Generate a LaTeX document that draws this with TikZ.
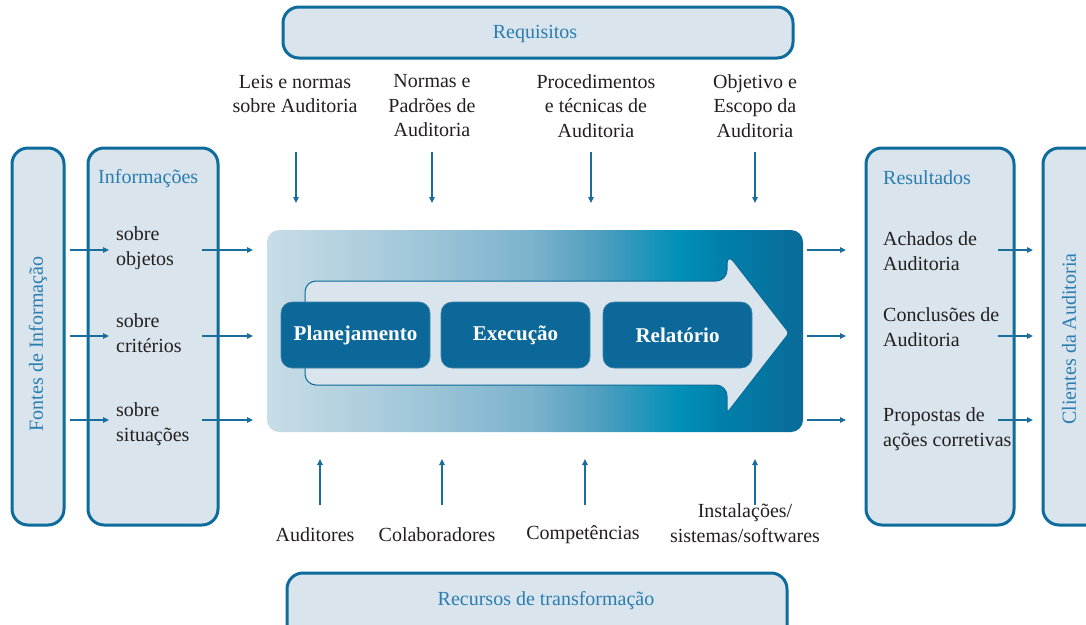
\documentclass[tikz,border=0pt]{standalone}
\usepackage{fontspec}
\setmainfont{Liberation Serif}
\usetikzlibrary{arrows.meta}
\definecolor{boxfill}{HTML}{D9E4EC}
\definecolor{boxline}{HTML}{0D6C9B}
\definecolor{titlec}{HTML}{2A7DB0}
\definecolor{textc}{HTML}{231F20}
\definecolor{arrowc}{HTML}{1A6E9E}
\definecolor{procfill}{HTML}{0B6898}
\definecolor{g1}{HTML}{C8DDE7}
\definecolor{g2}{HTML}{A6CADB}
\definecolor{g3}{HTML}{7DB3CD}
\definecolor{g4}{HTML}{4F9EC0}
\definecolor{g5}{HTML}{0090B8}
\definecolor{g6}{HTML}{0080AB}
\definecolor{g7}{HTML}{0A6A98}
\pgfdeclarehorizontalshading{coregrad}{100bp}{color(0bp)=(g1); color(25bp)=(g1); color(37bp)=(g2); color(49.5bp)=(g3); color(56bp)=(g4); color(63.5bp)=(g5); color(67.5bp)=(g6); color(75bp)=(g7); color(100bp)=(g7)}
\tikzset{
  panel/.style={draw=boxline, fill=boxfill, line width=3pt, rounded corners=16pt, inner sep=0pt},
  proc/.style={fill=procfill, draw=procfill!80!white, line width=0.6pt, rounded corners=11pt, minimum width=149pt, minimum height=66pt, text=white, font=\fontsize{21}{24}\selectfont\bfseries},
  lbl/.style={inner sep=0pt, text=textc, align=center},
  lbll/.style={inner sep=0pt, text=textc, align=left, anchor=west},
  ttl/.style={inner sep=0pt, text=titlec},
  conn/.style={draw=arrowc, line width=1.2pt, -{Triangle[length=6pt,width=5.5pt]}},
}
\begin{document}
\begin{tikzpicture}[x=1pt,y=-1pt, font=\fontsize{20}{24.5}\selectfont]
\useasboundingbox (0,0) rectangle (1086,624);
% top and bottom panels
\node[panel, minimum width=510pt, minimum height=51pt] (req) at (538,32.5) {};
\node[ttl] (reqt) at (535,34) {Requisitos};
\node[panel, minimum width=500pt, minimum height=70pt] (rec) at (537,608) {};
\node[ttl] (rect) at (546,601) {Recursos de transformação};
% side panels
\node[panel, minimum width=52pt, minimum height=377pt] (fon) at (38,336.5) {};
\node[ttl, rotate=90] (font) at (38,344) {Fontes de Informação};
\node[panel, minimum width=130pt, minimum height=377pt] (inf) at (153,336.5) {};
\node[ttl, anchor=west] (inft) at (98,179) {Informações};
\node[panel, minimum width=148pt, minimum height=377pt] (res) at (940,336.5) {};
\node[ttl, anchor=west] (rest) at (883,178) {Resultados};
\node[panel, minimum width=70pt, minimum height=377pt] (cli) at (1078,336.5) {};
\node[ttl, rotate=90] (clit) at (1069,339) {Clientes da Auditoria};
% core
\node[shade, shading=coregrad, rounded corners=12pt, minimum width=536pt, minimum height=202pt, inner sep=0pt] (core) at (535,331) {};
\draw[fill=boxfill, draw=g7, line width=1pt]
  (305,281) [rounded corners=11pt] -- (727,281) -- (727,253) [rounded corners=3pt] -- (789,333) -- (727,413) [rounded corners=11pt] -- (727,385) -- (305,385) -- cycle;
\node[proc] (plan) at (355.5,335) {Planejamento};
\node[proc] (exec) at (515.5,335) {Execução};
\node[proc] (rel) at (677.5,335) {Relatório};
% informações
\node[lbll] (obj) at (116,248) {sobre\\objetos};
\node[lbll] (cri) at (116,333) {sobre\\critérios};
\node[lbll] (sit) at (116,424) {sobre\\situações};
% resultados
\node[lbll] (ach) at (883,251) {Achados de\\Auditoria};
\node[lbll] (con) at (883,327) {Conclusões de\\Auditoria};
\node[lbll] (pro) at (883,429) {Propostas de\\ações corretivas};
% top labels
\node[lbl] (leis) at (295,94) {Leis e normas\\sobre Auditoria};
\node[lbl] (norm) at (432,106) {Normas e\\Padrões de\\Auditoria};
\node[lbl] (proc) at (596,106) {Procedimentos\\e técnicas de\\Auditoria};
\node[lbl] (objv) at (755,106) {Objetivo e\\Escopo da\\Auditoria};
% bottom labels
\node[lbl] (aud) at (315,535) {Auditores};
\node[lbl] (col) at (437,535) {Colaboradores};
\node[lbl] (comp) at (583,535) {Competências};
\node[lbl] (inst) at (745,523) {Instalações/\\sistemas/softwares};
% coordinates
\foreach \n/\y in {1/250,2/336,3/420}{
  \coordinate (fs\n) at (70,\y); \coordinate (fe\n) at (109,\y);
  \coordinate (is\n) at (202,\y); \coordinate (ie\n) at (253,\y);
  \coordinate (os\n) at (807,\y); \coordinate (oe\n) at (846,\y);
  \coordinate (rs\n) at (998,\y); \coordinate (re\n) at (1033,\y);
}
\foreach \n/\x in {1/296,2/432,3/591,4/755}{
  \coordinate (ts\n) at (\x,152); \coordinate (te\n) at (\x,203);
}
\foreach \n/\x in {1/320,2/442,3/585,4/755}{
  \coordinate (bs\n) at (\x,505); \coordinate (be\n) at (\x,459);
}
\foreach \n in {1,2,3}{
  \draw[conn] (fs\n) -- (fe\n);
  \draw[conn] (is\n) -- (ie\n);
  \draw[conn] (os\n) -- (oe\n);
  \draw[conn] (rs\n) -- (re\n);
}
\foreach \n in {1,2,3,4}{
  \draw[conn] (ts\n) -- (te\n);
  \draw[conn] (bs\n) -- (be\n);
}
\end{tikzpicture}
\end{document}
